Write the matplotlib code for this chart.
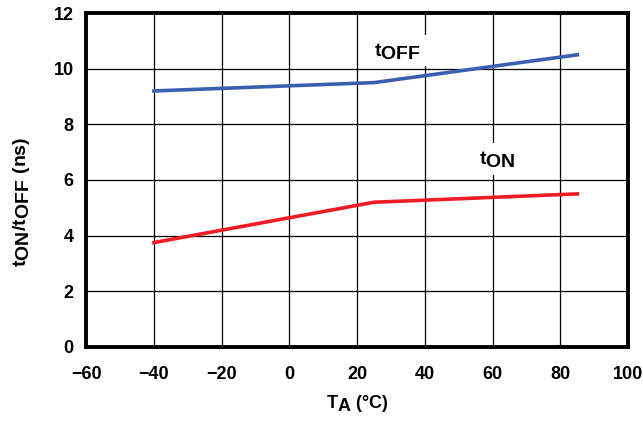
import matplotlib
matplotlib.use('agg')
import matplotlib.pyplot as plt
import matplotlib._mathtext as mt

# subscripts in the original are the same size as the main text
if hasattr(mt, 'SHRINK_FACTOR'):
    mt.SHRINK_FACTOR = 1.0

plt.rcParams['font.family'] = 'Liberation Sans'
plt.rcParams['font.weight'] = 'bold'
plt.rcParams['axes.labelweight'] = 'bold'
plt.rcParams['mathtext.fontset'] = 'custom'
plt.rcParams['mathtext.rm'] = 'Liberation Sans:bold'
plt.rcParams['mathtext.it'] = 'Liberation Sans:bold'
plt.rcParams['mathtext.bf'] = 'Liberation Sans:bold'

# temperature points (degC) and switching times (ns)
temp = [-40, 25, 85]
t_off = [9.2, 9.5, 10.5]
t_on = [3.75, 5.2, 5.5]

xticks = [-60, -40, -20, 0, 20, 40, 60, 80, 100]
yticks = [0, 2, 4, 6, 8, 10, 12]

fig = plt.figure(figsize=(6.43, 4.21), dpi=100)
ax = fig.add_axes([0.134, 0.176, 0.843, 0.793])

ax.plot(temp, t_off, color='#3a5fb0', lw=2.6, zorder=3)
ax.plot(temp, t_on, color='#ee1c25', lw=2.6, zorder=3)

ax.set_xlim(-60, 100)
ax.set_ylim(0, 12)
ax.set_xticks(xticks)
ax.set_yticks(yticks)
ax.set_xticklabels(['\u2212' + str(-v) if v < 0 else str(v) for v in xticks])
ax.grid(True, color='black', lw=0.9)
ax.set_axisbelow(True)
ax.tick_params(length=0, labelsize=13)
ax.tick_params(axis='x', pad=14)
ax.tick_params(axis='y', pad=9)
for s in ax.spines.values():
    s.set_linewidth(2.8)

ax.set_xlabel(r'$\mathbf{T_A}$ (°C)', fontsize=13, labelpad=7)
ax.set_ylabel(r'$\mathbf{t_{ON}/t_{OFF}}$ (ns)', fontsize=14)
ax.yaxis.set_label_coords(-0.10, 0.435)

box = dict(facecolor='white', edgecolor='none', pad=4)
ax.text(25, 10.65, r'$\mathbf{t_{OFF}}$', fontsize=14, ha='left', va='center', bbox=box, zorder=2)
ax.text(56, 6.75, r'$\mathbf{t_{ON}}$', fontsize=14, ha='left', va='center', bbox=box, zorder=2)

fig.savefig('out.png', dpi=100)
